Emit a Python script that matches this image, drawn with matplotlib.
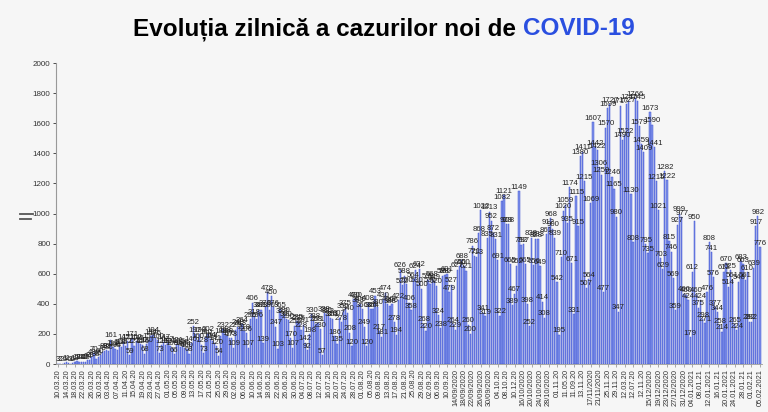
import matplotlib
matplotlib.use("Agg")
import matplotlib.pyplot as plt
from matplotlib.lines import Line2D

plt.rcParams['font.family'] = ['Liberation Sans', 'DejaVu Sans']

# Daily new cases, 10.03.2020 - 05.02.2021 (weeks Tue..Mon)
w00 = [3, 2, 2, 6, 11, 6, 1]
w01 = [6, 13, 17, 14, 14, 15, 15]
w02 = [24, 28, 48, 70, 36, 45, 60]
w03 = [78, 88, 93, 86, 161, 112, 101]
w04 = [96, 118, 115, 147, 122, 151, 59]
w05 = [171, 121, 152, 145, 130, 126, 68]
w06 = [130, 157, 184, 194, 176, 160, 73]
w07 = [126, 147, 123, 137, 121, 108, 66]
w08 = [131, 125, 112, 118, 104, 100, 68]
w09 = [140, 252, 197, 160, 199, 128, 73]
w10 = [180, 202, 164, 154, 141, 120, 54]
w11 = [188, 232, 198, 188, 176, 173, 109]
w12 = [229, 249, 243, 264, 218, 206, 107]
w13 = [296, 406, 318, 296, 362, 361, 139]
w14 = [376, 478, 360, 450, 376, 247, 103]
w15 = [365, 323, 330, 300, 290, 170, 107]
w16 = [255, 285, 275, 228, 261, 142, 92]
w17 = [198, 330, 288, 268, 271, 230, 57]
w18 = [339, 330, 323, 306, 301, 186, 135]
w19 = [307, 278, 355, 375, 340, 208, 120]
w20 = [430, 430, 393, 400, 366, 249, 120]
w21 = [408, 366, 364, 453, 380, 217, 181]
w22 = [430, 474, 400, 388, 396, 278, 194]
w23 = [422, 626, 522, 588, 530, 406, 358]
w24 = [564, 624, 530, 632, 500, 268, 220]
w25 = [558, 530, 568, 549, 520, 324, 238]
w26 = [588, 590, 601, 479, 527, 264, 229]
w27 = [627, 650, 688, 650, 621, 260, 200]
w28 = [786, 721, 713, 868, 1022, 341, 319]
w29 = [835, 1013, 952, 872, 831, 691, 322]
w30 = [1082, 1121, 928, 928, 665, 389, 467]
w31 = [652, 1149, 792, 797, 665, 398, 252]
w32 = [838, 656, 828, 833, 649, 414, 308]
w33 = [861, 912, 968, 900, 839, 542, 195]
w34 = [710, 1020, 1059, 935, 1174, 671, 331]
w35 = [1115, 915, 1380, 1411, 1215, 507, 564]
w36 = [1069, 1607, 1442, 1422, 1306, 1259, 477]
w37 = [1570, 1699, 1727, 1246, 1165, 980, 347]
w38 = [1717, 1490, 1522, 1727, 1745, 1130, 808]
w39 = [1766, 1745, 1579, 1459, 1409, 795, 735]
w40 = [1673, 1590, 1441, 1215, 1021, 703, 629]
w41 = [1282, 1222, 815, 746, 569, 359, 927]
w42 = [999, 977, 466, 460, 424, 179, 612]
w43 = [950, 460, 375, 424, 298, 271, 476]
w44 = [808, 741, 576, 377, 344, 258, 214]
w45 = [612, 670, 514, 625, 561, 265, 224]
w46 = [548, 683, 663, 561, 610, 282, 282]
w47 = [639, 917, 982, 776]

cases = (w00 + w01 + w02 + w03 + w04 + w05 + w06 + w07 + w08 + w09 + w10 + w11 +
         w12 + w13 + w14 + w15 + w16 + w17 + w18 + w19 + w20 + w21 + w22 + w23 +
         w24 + w25 + w26 + w27 + w28 + w29 + w30 + w31 + w32 + w33 + w34 + w35 +
         w36 + w37 + w38 + w39 + w40 + w41 + w42 + w43 + w44 + w45 + w46 + w47)

tick_labels = [
    "10.03.20", "14.03.20", "18.03.20", "22.03.20", "26.03.20", "30.03.20",
    "03.04.20", "07.04.20", "11.04.20", "15.04.20", "19.04.20", "23.04.20", "27.04.20",
    "01.05.20", "05.05.20", "09.05.20", "13.05.20", "17.05.20", "21.05.20", "25.05.20", "29.05.20",
    "02.06.20", "06.06.20", "10.06.20", "14.06.20", "18.06.20", "22.06.20", "26.06.20", "30.06.20",
    "04.07.20", "08.07.20", "12.07.20", "16.07.20", "20.07.20", "24.07.20", "28.07.20",
    "01.08.20", "05.08.20", "09.08.20", "13.08.20", "17.08.20", "21.08.20", "25.08.20", "29.08.20",
    "02.09.20", "06.09.20", "10.09.20", "14/09/2020", "18/09/2020", "22/09/2020", "26/09/2020",
    "30/09/2020", "04.10.20", "08.10.20", "10.12.20", "16/10/2020", "20/10/2020", "24/10/2020",
    "28/10/2020", "01.11.20", "11.05.20", "11.09.20", "13.11.20", "17/11/2020", "21/11/2020",
    "25.11.20", "29.11.20", "12.03.20", "12.07.20", "12.11.20", "15/12/2020", "19/12/2020",
    "23/12/2020", "27/12/2020", "31/12/2020", "04.01.2021", "08.01.21", "12.01.2021", "16.01.21",
    "20.01.2021", "24.01.2021", "28.01.21", "01.02.21", "05.02.2021",
]

bg = '#f6f6f6'
fig = plt.figure(figsize=(7.68, 4.12), dpi=100, facecolor=bg)
ax = fig.add_axes([0.073, 0.1165, 0.919, 0.7305], facecolor=bg)

x = list(range(len(cases)))
bars = ax.bar(x, cases, width=0.6, color='#8193ea', edgecolor='#3f53d2', linewidth=0.35)
ax.bar_label(bars, labels=[str(v) for v in cases], padding=0.3, fontsize=5.6, color='#222222')

ax.set_xlim(-0.9, len(cases) - 0.1)
ax.set_ylim(0, 2000)
ax.set_yticks(range(0, 2001, 200))
ax.tick_params(axis='y', labelsize=5.8, colors='#333333', length=2, width=0.6, pad=2)
ax.set_xticks(x[::4])
ax.set_xticklabels(tick_labels, rotation=90, fontsize=5.3, color='#333333')
ax.tick_params(axis='x', length=2, width=0.5, pad=1.5, color='#888888')

for s in ['top', 'right']:
    ax.spines[s].set_visible(False)
ax.spines['left'].set_color('#999999')
ax.spines['left'].set_linewidth(0.8)
ax.spines['bottom'].set_color('#999999')
ax.spines['bottom'].set_linewidth(0.6)

# title with two colours
t1 = fig.text(0.5, 0.93, "Evoluția zilnică a cazurilor noi de ", fontsize=17.5, fontweight='bold',
              color='black', ha='right', va='center')
fig.canvas.draw()
bb = t1.get_window_extent()
w1 = bb.width / fig.bbox.width
t2 = fig.text(0.5, 0.93, "COVID-19", fontsize=17.5, fontweight='bold', color='#2a4fe0',
              ha='left', va='center')
bb2 = t2.get_window_extent()
w2 = bb2.width / fig.bbox.width
shift = (w1 - w2) / 2
t1.set_x(0.5 + shift)
t2.set_x(0.5 + shift)

# small double-dash mark left of the axis
fig.add_artist(Line2D([20/768, 33/768], [1 - 214/412, 1 - 214/412], color='#555555', lw=1.3))
fig.add_artist(Line2D([20/768, 31/768], [1 - 219/412, 1 - 219/412], color='#555555', lw=1.3))

fig.savefig('out.png', dpi=100, facecolor=bg)
